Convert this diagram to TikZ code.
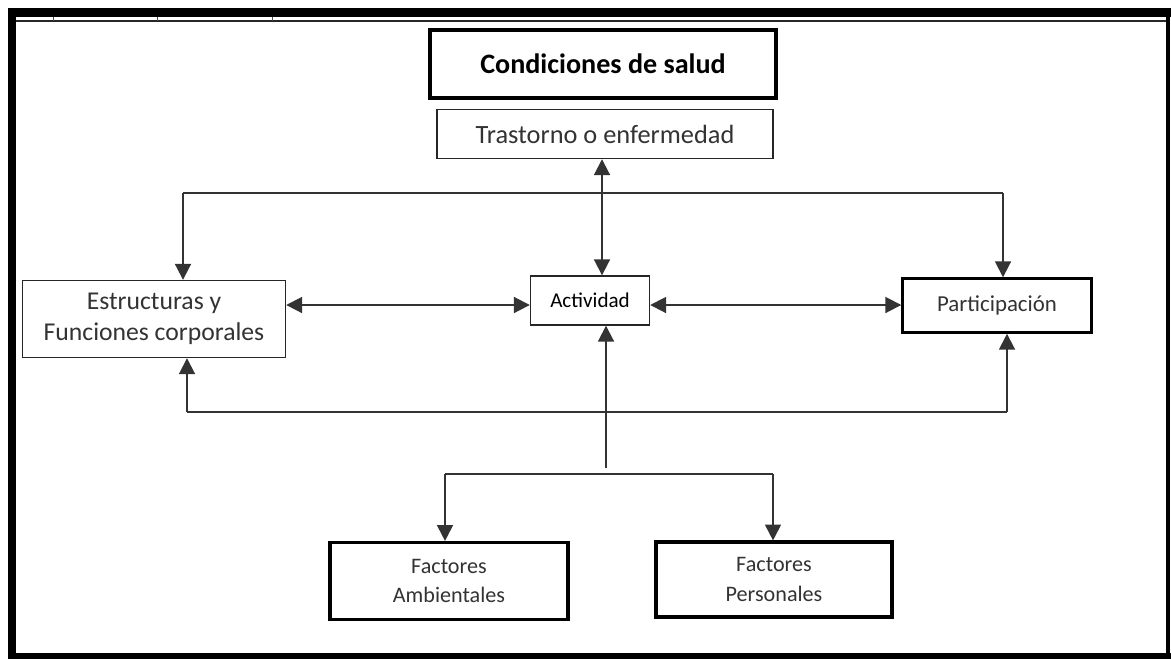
\documentclass[tikz,border=0pt]{standalone}
\usepackage{fontspec}
\setmainfont{Carlito}
\usetikzlibrary{arrows.meta}

\begin{document}
\begin{tikzpicture}[
        box/.style={draw=black!85, line width=0.8pt, fill=white, align=center, text=black!80, inner sep=2pt},
        heavybox/.style={box, draw=black, line width=2.4pt},
        link/.style={draw=black!80, line width=1.1pt},
        arr/.style={link, -{Triangle[length=9pt,width=9pt]}},
        twoarr/.style={link, {Triangle[length=9pt,width=9pt]}-{Triangle[length=9pt,width=9pt]}}
    ]
        \useasboundingbox (0,0) rectangle (23.42,-13.38);

        % Frame
        \fill[black] (0.16,-0.16) rectangle (23.42,-0.34);
        \draw[black!85, line width=0.7pt] (0.16,-0.42) -- (23.36,-0.42);
        \foreach \tx in {1.06,3.14,5.44}
            \draw[black!70, line width=0.4pt] (\tx,-0.34) -- (\tx,-0.42);
        \fill[black] (0.16,-0.16) rectangle (0.32,-13.18);
        \fill[black] (0.16,-13.06) rectangle (23.42,-13.18);
        \fill[black] (23.32,-0.16) rectangle (23.40,-13.18);

        % Boxes
        \node[heavybox, minimum width=6.92cm, minimum height=1.36cm, text=black, font=\fontsize{16}{19}\selectfont\bfseries] (salud) at (12.06,-1.28) {Condiciones de salud};
        \node[box, minimum width=6.72cm, minimum height=0.98cm, font=\fontsize{15}{18}\selectfont] (trast) at (12.10,-2.68) {Trastorno o enfermedad};
        \node[box, minimum width=5.26cm, minimum height=1.54cm, font=\fontsize{14.6}{17.5}\selectfont] (estr) at (3.08,-6.38) {Estructuras y\\Funciones corporales};
        \node[box, minimum width=2.38cm, minimum height=0.98cm, text=black, font=\fontsize{12}{15}\selectfont] (act) at (11.80,-6.01) {Actividad};
        \node[heavybox, line width=1.4pt, minimum width=3.78cm, minimum height=1.08cm, font=\fontsize{13}{15}\selectfont] (part) at (19.94,-6.11) {Participación};
        \node[heavybox, line width=1.8pt, minimum width=4.76cm, minimum height=1.54cm, font=\fontsize{12.6}{17}\selectfont] (amb) at (8.98,-11.62) {Factores\\Ambientales};
        \node[heavybox, line width=1.8pt, minimum width=4.72cm, minimum height=1.50cm, font=\fontsize{12.6}{17}\selectfont] (pers) at (15.48,-11.59) {Factores\\Personales};

        % Upper loop
        \coordinate (topL) at (3.66,-3.86);
        \coordinate (topR) at (20.06,-3.86);
        \coordinate (mid) at (12.04,-3.86);
        \draw[link] (topL) -- (topR);
        \draw[arr] (topL) -- (topL |- estr.north);
        \draw[arr] (topR) -- (topR |- part.north);
        \draw[twoarr] (mid |- trast.south) -- (mid |- act.north);

        % Lower loop
        \coordinate (botL) at (3.74,-8.24);
        \coordinate (botR) at (20.14,-8.24);
        \draw[link] (botL) -- (botR);
        \draw[arr] (botL) -- (botL |- estr.south);
        \draw[arr] (botR) -- (botR |- part.south);

        % Middle row
        \draw[twoarr] (estr.east |- 0,-6.10) -- (act.west |- 0,-6.10);
        \draw[twoarr] (act.east |- 0,-6.10) -- (part.west |- 0,-6.10);

        % Factors
        \coordinate (fork) at (12.12,-9.36);
        \coordinate (forkL) at (8.90,-9.48);
        \coordinate (forkR) at (15.46,-9.48);
        \draw[arr] (fork) -- (fork |- act.south);
        \draw[link] (forkL) -- (forkR);
        \draw[arr] (forkL) -- (forkL |- amb.north);
        \draw[arr] (forkR) -- (forkR |- pers.north);
    \end{tikzpicture}
\end{document}
